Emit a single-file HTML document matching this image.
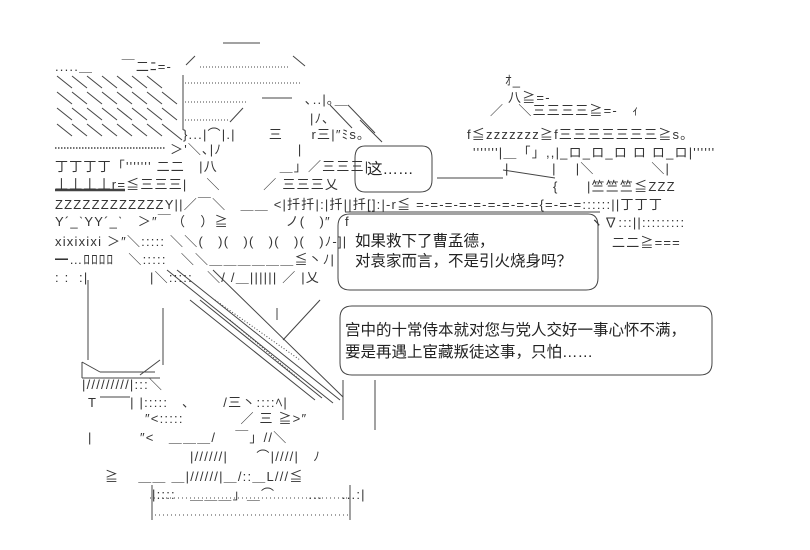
<!DOCTYPE html>
<html><head><meta charset="utf-8"><style>
body{margin:0;background:#fff;width:810px;height:550px;overflow:hidden;position:relative}
.t{position:absolute;font-family:"Liberation Sans","Noto Sans CJK SC",sans-serif;font-size:13px;letter-spacing:1.2px;line-height:1;white-space:pre;color:#333}
.c{position:absolute;font-family:"Liberation Sans","Noto Sans CJK SC",sans-serif;font-size:15.5px;line-height:1;white-space:pre;color:#222}
svg{position:absolute;left:0;top:0}
</style></head><body>
<svg width="810" height="550" stroke="#444" stroke-width="1" fill="none">
<line x1="223" y1="43" x2="260" y2="43"/>
<line x1="186" y1="65" x2="195" y2="56"/><line x1="293" y1="56" x2="305" y2="66"/>
<line x1="200" y1="67" x2="290" y2="67" stroke-dasharray="1 2"/>
<line x1="185" y1="83" x2="300" y2="83" stroke-dasharray="1 2"/>
<line x1="185" y1="102" x2="248" y2="102" stroke-dasharray="1 2"/>
<line x1="185" y1="120" x2="230" y2="120" stroke-dasharray="1 2"/>
<line x1="183" y1="75" x2="183" y2="130"/>
<line x1="230" y1="122" x2="243" y2="108"/>
<line x1="262" y1="98" x2="292" y2="98"/>
<g>
<line x1="57" y1="76" x2="72" y2="88"/><line x1="72" y1="76" x2="87" y2="88"/><line x1="87" y1="76" x2="102" y2="88"/><line x1="102" y1="76" x2="117" y2="88"/><line x1="117" y1="76" x2="132" y2="88"/><line x1="132" y1="76" x2="147" y2="88"/><line x1="147" y1="76" x2="162" y2="88"/>
<line x1="57" y1="92" x2="72" y2="104"/><line x1="72" y1="92" x2="87" y2="104"/><line x1="87" y1="92" x2="102" y2="104"/><line x1="102" y1="92" x2="117" y2="104"/><line x1="117" y1="92" x2="132" y2="104"/><line x1="132" y1="92" x2="147" y2="104"/><line x1="147" y1="92" x2="162" y2="104"/><line x1="162" y1="92" x2="177" y2="104"/>
<line x1="57" y1="108" x2="72" y2="120"/><line x1="72" y1="108" x2="87" y2="120"/><line x1="87" y1="108" x2="102" y2="120"/><line x1="102" y1="108" x2="117" y2="120"/><line x1="117" y1="108" x2="132" y2="120"/><line x1="132" y1="108" x2="147" y2="120"/><line x1="147" y1="108" x2="162" y2="120"/><line x1="162" y1="108" x2="177" y2="120"/>
<line x1="57" y1="124" x2="72" y2="136"/><line x1="72" y1="124" x2="87" y2="136"/><line x1="87" y1="124" x2="102" y2="136"/><line x1="102" y1="124" x2="117" y2="136"/><line x1="117" y1="124" x2="132" y2="136"/><line x1="132" y1="124" x2="147" y2="136"/><line x1="147" y1="124" x2="162" y2="136"/><line x1="162" y1="124" x2="182" y2="140"/>
<line x1="330" y1="105" x2="352" y2="128"/><line x1="348" y1="105" x2="375" y2="133"/><line x1="360" y1="120" x2="382" y2="142"/>
</g>
<line x1="55" y1="148" x2="165" y2="148" stroke-dasharray="1.5 1.5" stroke-width="1.5"/>
<line x1="55" y1="190" x2="125" y2="190" stroke-width="2.5"/>
<path d="M365 146 H422 Q432 146 432 158 V180 Q432 192 420 192 H365 Q355 192 355 180 V158 Q355 146 365 146Z"/>
<path d="M350 214 H588 Q598 214 598 226 V278 Q598 290 586 290 H350 Q338 290 338 278 V226 Q338 214 350 214Z"/>
<path d="M352 306 H700 Q712 306 712 318 V363 Q712 375 700 375 H352 Q340 375 340 363 V318 Q340 306 352 306Z"/>
<line x1="345" y1="212" x2="600" y2="212"/>
<line x1="437" y1="178" x2="503" y2="178"/>
<line x1="503" y1="170" x2="555" y2="178"/>
<line x1="167" y1="270" x2="333" y2="403"/>
<line x1="177" y1="270" x2="340" y2="400"/>
<line x1="213" y1="270" x2="343" y2="397"/>
<line x1="190" y1="300" x2="315" y2="400"/>
<line x1="200" y1="300" x2="322" y2="398"/>
<line x1="320" y1="300" x2="283" y2="340"/>
<line x1="215" y1="300" x2="300" y2="360" stroke-dasharray="1 2"/>
<line x1="230" y1="320" x2="300" y2="380" stroke-dasharray="1 2"/>
<line x1="88" y1="280" x2="88" y2="360"/><line x1="163" y1="308" x2="163" y2="365"/>
<line x1="343" y1="380" x2="343" y2="420"/><line x1="375" y1="380" x2="375" y2="430"/>
<line x1="277" y1="308" x2="277" y2="320"/>
<line x1="100" y1="372" x2="155" y2="372"/>
<line x1="140" y1="375" x2="160" y2="360"/>
<line x1="82" y1="362" x2="82" y2="378"/><line x1="82" y1="362" x2="100" y2="372"/>
<line x1="82" y1="378" x2="160" y2="378"/>
<line x1="100" y1="397" x2="130" y2="397"/>
<line x1="150" y1="498" x2="350" y2="498" stroke-dasharray="1 3"/>
<line x1="155" y1="515" x2="350" y2="515" stroke-dasharray="1 3"/>
<line x1="152" y1="485" x2="152" y2="520"/><line x1="350" y1="485" x2="350" y2="520"/>
</svg>

<div class="t" style="left:55px;top:60px">.....＿　　￣二ﾆ=-</div>
<div class="t" style="left:305px;top:93px">､..|｡＿</div>
<div class="t" style="left:310px;top:112px">|ﾉ､</div>
<div class="t" style="left:183px;top:128px">}...|⌒|.|　　 三　　r三|″ﾐs｡</div>
<div class="t" style="left:170px;top:143px">＞'＼､|ﾉ　　　　　 |</div>
<div class="t" style="left:55px;top:160px">丁丁丁丁「''''''' 二二　|八　　　　 ＿」／三三三|</div>
<div class="t" style="left:55px;top:178px">丄丄丄丄r=≦三三三|　 ＼　　　／ 三三三乂</div>
<div class="t" style="left:55px;top:198px">ZZZZZZZZZZZZY||／￣＼　＿＿ &lt;|扦扦|:|扦||扦[]:|-r≦ =-=-=-=-=-=-=-=-={=-=-=::::::||丁丁丁</div>
<div class="t" style="left:55px;top:215px">Y´_ˋYY´_ˋ　＞″￣（　）≧　　　　ノ(　)″　f</div>
<div class="t" style="left:55px;top:235px">xixixixi ＞″＼::::: ＼＼(　)(　)(　)(　)(　)ﾉ-]|</div>
<div class="t" style="left:55px;top:253px">━…ﾛﾛﾛﾛ　＼:::::　＼＼＿＿＿＿＿＿≦丶ﾉ|</div>
<div class="t" style="left:55px;top:271px">: :  :|　　　　 |＼:::::　＼/ /＿|||||| ／ |乂</div>

<div class="t" style="left:505px;top:74px">ｵ_</div>
<div class="t" style="left:508px;top:91px">八≧=-</div>
<div class="t" style="left:490px;top:104px">／　＼三三三三≧=-　ｨ</div>
<div class="t" style="left:467px;top:128px">f≦zzzzzzz≧f三三三三三三三≧s｡</div>
<div class="t" style="left:473px;top:146px">'''''''|＿「」,,|_ロ_ロ_ロ ロ ロ_ロ|''''''</div>
<div class="t" style="left:505px;top:162px">|　　　|　 |＼　　　　＼|</div>
<div class="t" style="left:553px;top:180px">{　　|竺竺竺≦ZZZ</div>
<div class="t" style="left:590px;top:216px">ヽ∇:::||:::::::::</div>
<div class="t" style="left:612px;top:236px">二二≧===</div>

<div class="c" style="left:367px;top:162px">这……</div>
<div class="c" style="left:355px;top:234px">如果救下了曹孟德，</div>
<div class="c" style="left:355px;top:254px">对袁家而言，不是引火烧身吗？</div>
<div class="c" style="left:345px;top:323px">宫中的十常侍本就对您与党人交好一事心怀不满，</div>
<div class="c" style="left:345px;top:345px">要是再遇上宦藏叛徒这事，只怕……</div>

<div class="t" style="left:82px;top:378px">|/////////|:::＼</div>
<div class="t" style="left:88px;top:396px">T　　 |&#160;|:::::　､　　 /三丶::::ﾍ|</div>
<div class="t" style="left:145px;top:412px">″&lt;:::::　　　　／ 三 ≧&gt;″</div>
<div class="t" style="left:88px;top:431px">|　　　 ″&lt;　＿＿＿/　 ￣」//＼</div>
<div class="t" style="left:190px;top:450px">|//////|　　⌒|////|　ﾉ</div>
<div class="t" style="left:105px;top:470px">≧　 ＿＿ ＿|//////|＿/::＿L///≦</div>
<div class="t" style="left:152px;top:488px">|::::　＿＿＿」＿⌒　　 ...　 ...:|</div>
</body></html>
